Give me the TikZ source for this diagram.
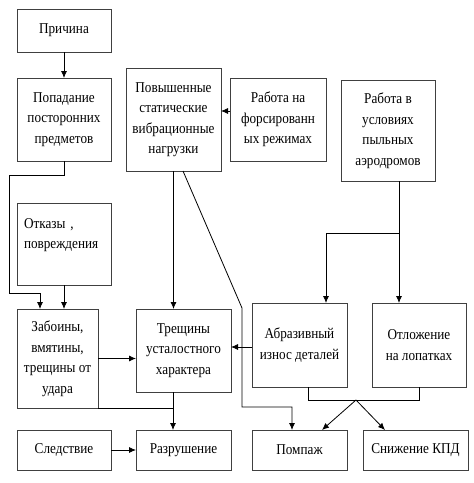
\documentclass[tikz,border=0pt]{standalone}
\usepackage{fontspec}
\setmainfont{Liberation Serif}[FakeStretch=0.88]
\usepackage{tikz}
\usetikzlibrary{calc,arrows.meta}

\begin{document}
\begin{tikzpicture}[x=1pt,y=1pt,inner sep=0pt,outer sep=0pt,
    every node/.style={font=\rmfamily\fontsize{15}{20.5}\selectfont, align=center},
    box/.style={draw=black!75, line width=0.8pt},
    arr/.style={-{Latex[length=7pt,width=6pt]}, line width=0.8pt},
    lnk/.style={line width=0.8pt}]
    \useasboundingbox (0,0) rectangle (474,-483);

    % causes
    \node[box, minimum width=94, minimum height=43] (cause) at (64,-30.5) {Причина};
    \node[box, minimum width=94, minimum height=83] (foreign_obj) at (64,-119.5)
    {Попадание\\посторонних\\предметов};
    \node[box, minimum width=95, minimum height=103] (loads) at (173.5,-119.5)
    {Повышенные\\статические\\вибрационные\\нагрузки};
    \node[box, minimum width=96, minimum height=83] (forced) at (278,-119.5)
    {Работа на\\форсированн\\ых режимах};
    \node[box, minimum width=94, minimum height=101] (dusty) at (388,-130.5)
    {Работа в\\условиях\\пыльных\\аэродромов};
    \node[box, minimum width=94, minimum height=82, align=left, text width=80] (failures) at (64,-244)
    {Отказы ,\\повреждения\\\mbox{}};

    % damage
    \node[box, minimum width=81, minimum height=99] (dents) at (57.5,-358.5)
    {Забоины,\\вмятины,\\трещины от\\удара};
    \node[box, minimum width=95, minimum height=83] (cracks) at (183.5,-350.5)
    {Трещины\\усталостного\\характера};
    \node[box, minimum width=95, minimum height=84] (abrasion) at (299.5,-345)
    {Абразивный\\износ деталей};
    \node[box, minimum width=94, minimum height=84] (deposit) at (419,-345)
    {Отложение\\на лопатках};

    % consequences
    \node[box, minimum width=94, minimum height=40] (effect) at (64,-450) {Следствие};
    \node[box, minimum width=95, minimum height=40] (destruction) at (183.5,-450) {Разрушение};
    \node[box, minimum width=95, minimum height=40] (surge) at (299.5,-450) {Помпаж};
    \node[box, minimum width=105, minimum height=40] (efficiency) at (415.5,-450) {Снижение КПД};

    \coordinate (kink) at (242,-308);
    \coordinate (join) at (356,-400);

    % connectors
    \draw[arr] (cause) -- (foreign_obj);
    \draw[arr] (foreign_obj.south) -- ++(0,-14) -- ++(-55,0)
        |- ($(dents.north)+(-17.5,16)$) -- ($(dents.north)+(-17.5,0)$);
    \draw[arr] (failures.south) -- (failures.south |- dents.north);
    \draw[arr] ([yshift=8.5]forced.west) -- ([yshift=8.5]loads.east);
    \draw[arr] (loads.south) -- (loads.south |- cracks.north);
    \draw[arr] ([xshift=9.5]loads.south) -- (kink)
        |- ($(surge.north)+(-7.5,23)$) -- ($(surge.north)+(-7.5,0)$);
    \draw[arr] ([xshift=11]dusty.south) -- ++(0,-52) -| ([xshift=26.5]abrasion.north);
    \draw[arr] ([xshift=11]dusty.south) -- ([xshift=11]dusty.south |- deposit.north);
    \draw[arr] (dents.east) -- (dents.east -| cracks.west);
    \draw[arr] ([yshift=-2]abrasion.west) -- ([yshift=-2]abrasion.west -| cracks.east);
    \draw[arr] ([xshift=-10.5]cracks.south) -- ([xshift=-10.5]destruction.north);
    \draw[lnk] (dents.south east) -- ($(cracks.south)+(-10.5,-16)$);
    \draw[arr] (effect) -- (destruction);
    \draw[lnk] ([xshift=8.5]abrasion.south) |- ($(deposit.south)+(0,-13)$) -- (deposit.south);
    \draw[arr] (join) -- ([xshift=22.5]surge.north);
    \draw[arr] (join) -- ([xshift=-30.5]efficiency.north);
\end{tikzpicture}
\end{document}
